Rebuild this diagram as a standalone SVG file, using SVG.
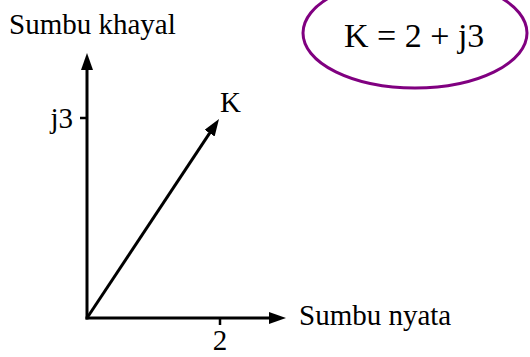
<svg xmlns="http://www.w3.org/2000/svg" width="530" height="357" viewBox="0 0 530 357">
<style>
.t{font-family:"Liberation Serif","Times New Roman",serif;font-size:29px;fill:#000}
.ax{stroke:#000;stroke-width:3;fill:none}
.tk{stroke:#000;stroke-width:2.5;fill:none}
</style>
<defs>
<marker id="ah" markerUnits="userSpaceOnUse" markerWidth="17" markerHeight="12" refX="9" refY="6" orient="auto" viewBox="0 0 17 12">
<path d="M0,0 L17,6 L0,12 z" fill="#000"/>
</marker>
</defs>
<rect width="530" height="357" fill="#fff"/>
<g id="connectors">
<line class="ax" x1="87" y1="319.5" x2="87" y2="61" marker-end="url(#ah)"/>
<line class="ax" x1="85.5" y1="318" x2="278" y2="318" marker-end="url(#ah)"/>
<line class="ax" x1="87" y1="318" x2="214.6" y2="125.7" marker-end="url(#ah)"/>
<line class="tk" x1="80" y1="118" x2="87" y2="118"/>
<line class="tk" x1="220" y1="318" x2="220" y2="325"/>
</g>
<g id="label-imag"><text class="t" x="9" y="34">Sumbu khayal</text></g>
<g id="label-real"><text class="t" x="299" y="325">Sumbu nyata</text></g>
<g id="tick-j3"><text class="t" x="73" y="128" text-anchor="end">j3</text></g>
<g id="tick-2"><text class="t" x="220" y="350" text-anchor="middle">2</text></g>
<g id="label-K"><text class="t" x="220" y="112">K</text></g>
<g id="equation">
<ellipse cx="415" cy="33" rx="112" ry="55" fill="none" stroke="#800080" stroke-width="3"/>
<text class="t" x="344" y="47" style="font-size:34px">K = 2 + j3</text>
</g>
</svg>
